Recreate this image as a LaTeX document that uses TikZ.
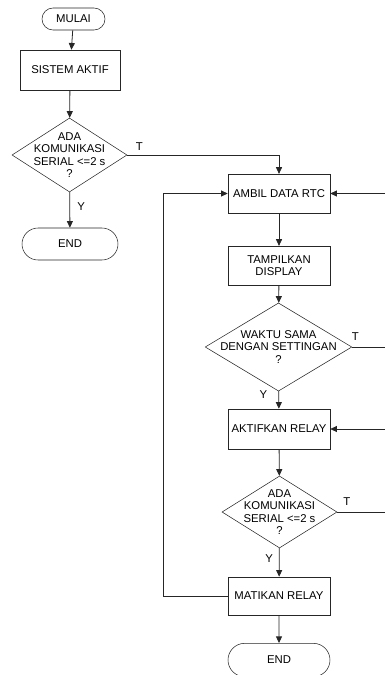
\documentclass[tikz,border=0pt]{standalone}
\usepackage{fontspec}
\setmainfont{Liberation Sans}
\usetikzlibrary{arrows.meta,positioning,shapes.geometric,shapes.misc}

\begin{document}
\begin{tikzpicture}[
    x=0.75pt, y=-0.75pt,
    font=\fontsize{8.5}{9.4}\selectfont,
    terminal/.style={draw=black!85, rounded rectangle, align=center, inner sep=0pt},
    block/.style={draw=black!85, align=center, inner sep=0pt, minimum width=76.5pt},
    decision/.style={draw=black!85, diamond, align=center, inner xsep=-18pt, inner ysep=-5pt},
    line/.style={-{Triangle[length=5pt,width=4.5pt]}, semithick, draw=black!85},
    plain/.style={semithick, draw=black!85}
]
    \useasboundingbox (0,0) rectangle (385,675);

    % left column
    \node[terminal, minimum width=47.25pt, minimum height=16.5pt] (start) at (73.5,19) {MULAI};
    \node[block, minimum width=75pt, minimum height=30pt] (active) at (70,70) {SISTEM AKTIF};
    \node[decision, minimum width=86.25pt, minimum height=55.5pt] (serial1) at (69.5,155) {ADA\\KOMUNIKASI\\SERIAL <=2 s\\?};
    \node[terminal, minimum width=72pt, minimum height=24pt] (stop1) at (70,244) {END};

    % right column
    \node[block, minimum height=29pt] (rtc) at (279,193.5) {AMBIL DATA RTC};
    \node[block, minimum height=29pt] (display) at (279,265.5) {TAMPILKAN\\DISPLAY};
    \node[decision, minimum width=110pt, minimum height=57pt] (time) at (278.5,347) {WAKTU SAMA\\DENGAN SETTINGAN\\?};
    \node[block, minimum height=30pt] (relayon) at (279,429) {AKTIFKAN RELAY};
    \node[decision, minimum width=86.25pt, minimum height=54pt] (serial2) at (279.5,512) {ADA\\KOMUNIKASI\\SERIAL <=2 s\\?};
    \node[block, minimum height=28.5pt] (relayoff) at (279,596) {MATIKAN RELAY};
    \node[terminal, minimum width=76.5pt, minimum height=25pt] (stop2) at (279,660) {END};

    % free ends at the right border
    \coordinate (rtcin) at (385,193.5);
    \coordinate (timeout) at (385,347);
    \coordinate (relayin) at (385,429);
    \coordinate (serialout) at (385,512);
    \coordinate (loop) at (163,596);

    \draw[line] (start) -- (active);
    \draw[line] (active) -- (serial1);
    \draw[line] (serial1) -- node[pos=0.4, right=2pt] {Y} (stop1);
    \draw[line] (serial1.east) -| node[pos=0.04, above] {T} (rtc.north);

    \draw[line] (rtc) -- (display);
    \draw[line] (display) -- (time);
    \draw[line] (time) -- node[pos=0.2, left=5pt] {Y} (relayon);
    \draw[plain] (time.east) -- node[pos=0.1, above=1pt] {T} (timeout);
    \draw[line] (rtcin) -- (rtc);
    \draw[line] (relayin) -- (relayon);

    \draw[line] (relayon) -- (serial2);
    \draw[line] (serial2) -- node[pos=0.35, left=1pt] {Y} (relayoff);
    \draw[plain] (serial2.east) -- node[pos=0.2, above=1pt] {T} (serialout);
    \draw[line] (relayoff.west) -- (loop) |- (rtc.west);
    \draw[line] (relayoff) -- (stop2);
\end{tikzpicture}
\end{document}
